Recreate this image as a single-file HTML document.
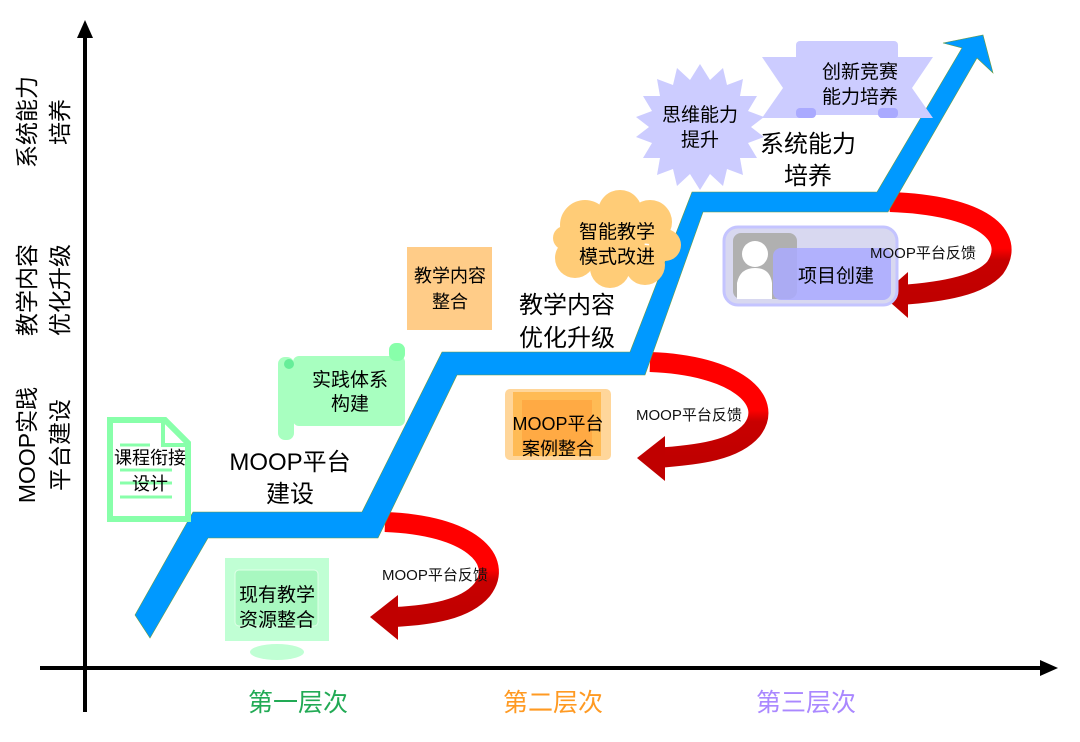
<!DOCTYPE html>
<html><head><meta charset="utf-8"><style>
html,body{margin:0;padding:0;background:#fff}
svg text{font-family:"Liberation Sans","Noto Sans CJK SC",sans-serif}
</style></head><body>
<svg width="1080" height="737" viewBox="0 0 1080 737" xmlns="http://www.w3.org/2000/svg">
<defs>
<linearGradient id="rg" x1="0" y1="0" x2="0" y2="1">
<stop offset="0" stop-color="#ff0000"/><stop offset="0.5" stop-color="#ff0000"/><stop offset="0.62" stop-color="#c80000"/><stop offset="1" stop-color="#c00000"/>
</linearGradient>
</defs>
<line x1="85" y1="30" x2="85" y2="712" stroke="#000" stroke-width="4"/>
<polygon points="85,20 77,38 93,38" fill="#000"/>
<line x1="40" y1="668" x2="1045" y2="668" stroke="#000" stroke-width="4"/>
<polygon points="1058,668 1040,660 1040,676" fill="#000"/>
<g font-size="23" fill="#000" text-anchor="middle">
<text transform="translate(35,122) rotate(-90)">系统能力</text>
<text transform="translate(68,122) rotate(-90)">培养</text>
<text transform="translate(35,290) rotate(-90)">教学内容</text>
<text transform="translate(68,290) rotate(-90)">优化升级</text>
<text transform="translate(35,445) rotate(-90)">MOOP实践</text>
<text transform="translate(68,445) rotate(-90)">平台建设</text>
</g>
<g font-size="25" text-anchor="middle">
<text x="298" y="711" fill="#22aa55">第一层次</text>
<text x="553" y="711" fill="#ff9a22">第二层次</text>
<text x="806" y="711" fill="#aa88ff">第三层次</text>
</g>
<g fill="none" stroke="url(#rg)" stroke-width="20">
<path d="M385,522 C470,525 505,560 482,590 C465,610 430,615 395,617"/>
<path d="M650,362 C735,365 775,400 752,430 C735,450 700,455 655,458"/>
<path d="M890,202 C980,205 1018,235 995,268 C980,285 945,292 900,295"/>
</g>
<g fill="#c00000">
<polygon points="370,617 398,595 398,640"/>
<polygon points="637,458 665,436 665,481"/>
<polygon points="882,295 908,272 908,318"/>
</g>
<polygon fill="#0099ff" stroke="#6a9a40" stroke-width="0.6" points="135,615 193,512 362,512 442,352 630,352 692,192 877,192 962,48 943,43 983,35 993,73 977,58 888,212 703,212 645,375 457,375 378,538 208,538 150,638"/>
<g font-size="15" fill="#111">
<text x="382" y="580">MOOP平台反馈</text>
<text x="636" y="420">MOOP平台反馈</text>
</g>
<g font-size="24" fill="#000" text-anchor="middle">
<text x="290" y="470">MOOP平台</text>
<text x="290" y="502">建设</text>
<text x="567" y="313">教学内容</text>
<text x="567" y="346">优化升级</text>
<text x="808" y="152">系统能力</text>
<text x="808" y="184">培养</text>
</g>
<path d="M110,420 L165,420 L188,443 L188,519 L110,519 Z" fill="#fff" stroke="#88ffaa" stroke-width="6"/>
<path d="M163,420 L163,445 L188,445" fill="none" stroke="#88ffaa" stroke-width="4"/>
<g stroke="#88ffaa" stroke-width="3"><line x1="120" y1="445" x2="150" y2="445"/><line x1="120" y1="470" x2="172" y2="470"/><line x1="120" y1="483" x2="172" y2="483"/><line x1="120" y1="497" x2="172" y2="497"/></g>
<g font-size="18" fill="#000" text-anchor="middle"><text x="150" y="464">课程衔接</text><text x="150" y="490">设计</text></g>
<rect x="293" y="356" width="112" height="70" rx="6" fill="#a8ffc0"/>
<rect x="389" y="343" width="16" height="18" rx="7" fill="#88ffaa"/>
<rect x="278" y="357" width="16" height="83" rx="7" fill="#a8ffc0"/>
<circle cx="289" cy="364" r="5" fill="#66ee99"/>
<g font-size="19" fill="#000" text-anchor="middle"><text x="350" y="386">实践体系</text><text x="350" y="410">构建</text></g>
<rect x="225" y="558" width="104" height="83" fill="#c0ffd4"/>
<rect x="235" y="570" width="83" height="56" rx="4" fill="#a8f8c0" stroke="#e0ffe8" stroke-width="1"/>
<ellipse cx="277" cy="652" rx="27" ry="8" fill="#c0ffd4"/>
<g font-size="19" fill="#000" text-anchor="middle"><text x="277" y="601">现有教学</text><text x="277" y="626">资源整合</text></g>
<rect x="407" y="247" width="85" height="83" fill="#ffcc88"/>
<g font-size="18" fill="#000" text-anchor="middle"><text x="450" y="282">教学内容</text><text x="450" y="308">整合</text></g>
<rect x="505" y="389" width="106" height="71" rx="5" fill="#ffd69a"/>
<rect x="513" y="392" width="88" height="64" fill="#ffbb55"/>
<rect x="522" y="400" width="70" height="50" fill="#ffaa44"/>
<g font-size="18" fill="#000" text-anchor="middle"><text x="558" y="430">MOOP平台</text><text x="558" y="455">案例整合</text></g>
<g fill="#ffcc77">
<circle cx="585" cy="225" r="25"/><circle cx="620" cy="212" r="22"/><circle cx="650" cy="222" r="22"/>
<circle cx="665" cy="245" r="16"/><circle cx="645" cy="265" r="20"/><circle cx="610" cy="268" r="20"/>
<circle cx="575" cy="258" r="20"/><circle cx="565" cy="238" r="12"/><circle cx="615" cy="240" r="30"/>
</g>
<g font-size="19" fill="#000" text-anchor="middle"><text x="617" y="238">智能教学</text><text x="617" y="263">模式改进</text></g>
<polygon fill="#ccccff" points="700,64 710,80 723,68 727,85 743,79 740,96 757,96 748,111 764,117 751,127 764,137 748,143 757,158 740,158 743,175 727,169 723,186 710,174 700,190 690,174 677,186 673,169 657,175 660,158 643,158 652,143 636,137 649,127 636,117 652,111 643,96 660,96 657,79 673,85 677,68 690,80"/>
<g font-size="19" fill="#000" text-anchor="middle"><text x="700" y="121">思维能力</text><text x="700" y="146">提升</text></g>
<polygon fill="#ccccff" points="762,57 812,57 812,118 762,118 783,88"/>
<polygon fill="#ccccff" points="880,57 933,57 912,88 933,118 880,118"/>
<rect x="796" y="41" width="102" height="74" rx="4" fill="#ccccff"/>
<rect x="796" y="108" width="20" height="10" rx="4" fill="#aaaaff"/>
<rect x="878" y="108" width="20" height="10" rx="4" fill="#aaaaff"/>
<g font-size="19" fill="#000" text-anchor="middle"><text x="860" y="78">创新竞赛</text><text x="860" y="103">能力培养</text></g>
<rect x="724" y="227" width="173" height="78" rx="14" fill="#d8d8f0" stroke="#c4c4ff" stroke-width="3"/>
<rect x="733" y="233" width="64" height="66" rx="8" fill="#b0b0b0"/>
<circle cx="755" cy="254" r="13" fill="#fff"/>
<path d="M737,299 L737,283 Q740,268 755,268 Q770,268 772,283 L772,299 Z" fill="#fff"/>
<rect x="773" y="248" width="118" height="52" rx="8" fill="#aaaaff" opacity="0.85"/>
<text x="836" y="282" font-size="19" fill="#000" text-anchor="middle">项目创建</text>
<text x="870" y="258" font-size="15" fill="#111">MOOP平台反馈</text>
</svg>
</body></html>
